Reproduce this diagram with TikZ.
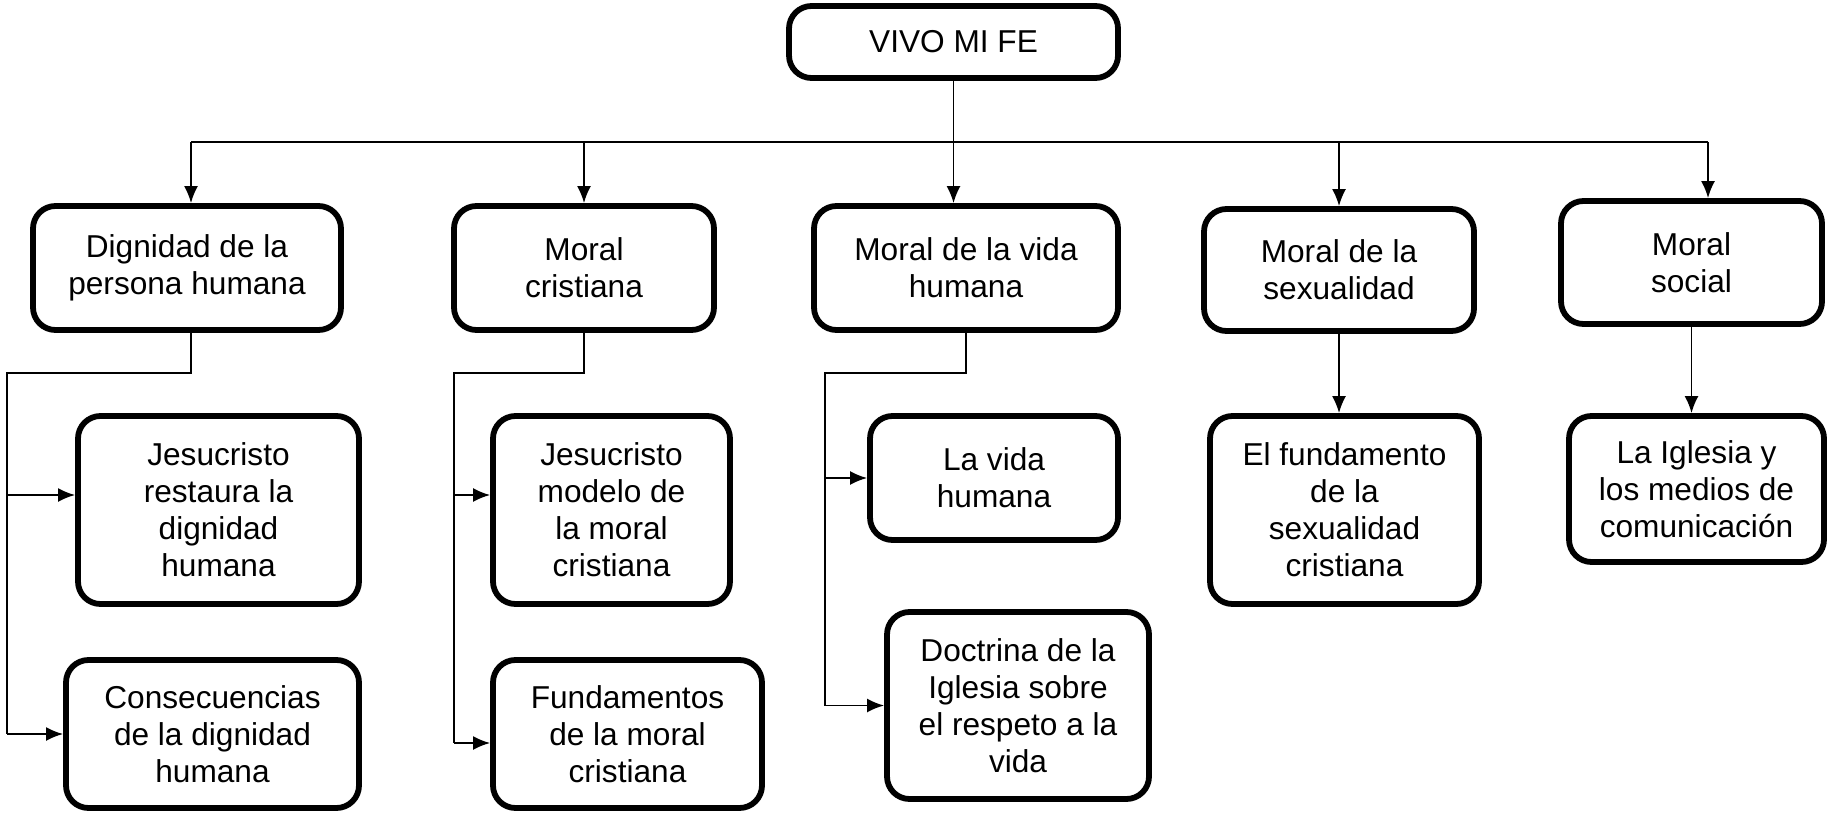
\documentclass[tikz,border=0pt]{standalone}
\usepackage{fontspec}
\setmainfont{Liberation Sans}
\usetikzlibrary{arrows.meta,positioning}

\begin{document}
\begin{tikzpicture}[>={Latex[length=0.34cm,width=0.28cm]},font=\fontsize{18}{21}\selectfont,line width=1.1pt]

    % Define node styles
    \tikzstyle{block} = [draw, line width=3.3pt, rounded corners=0.45cm, align=center, minimum height=2.48cm, inner sep=2pt]

    \useasboundingbox (0,0) rectangle (36.58,-16.26);

    % Draw nodes
    \node [block, minimum width=6.58cm, minimum height=1.44cm] (root) at (19.07,-0.84) {VIVO MI FE};

    \node [block, minimum width=6.16cm] (dig) at (3.74,-5.36) {Dignidad de la\\persona humana};
    \node [block, minimum width=5.2cm] (mc) at (11.68,-5.36) {Moral\\cristiana};
    \node [block, minimum width=6.08cm] (mvh) at (19.32,-5.36) {Moral de la vida\\humana};
    \node [block, minimum width=5.4cm, minimum height=2.44cm] (ms) at (26.78,-5.4) {Moral de la\\sexualidad};
    \node [block, minimum width=5.22cm, minimum height=2.46cm] (msoc) at (33.83,-5.25) {Moral\\social};

    \node [block, minimum width=5.62cm, minimum height=3.76cm] (jr) at (4.37,-10.2) {Jesucristo\\restaura la\\dignidad\\humana};
    \node [block, minimum width=5.86cm, minimum height=2.96cm] (cons) at (4.25,-14.68) {Consecuencias\\de la dignidad\\humana};
    \node [block, minimum width=4.74cm, minimum height=3.76cm] (jm) at (12.23,-10.2) {Jesucristo\\modelo de\\la moral\\cristiana};
    \node [block, minimum width=5.38cm, minimum height=2.96cm] (fund) at (12.55,-14.68) {Fundamentos\\de la moral\\cristiana};
    \node [block, minimum width=4.96cm] (lvh) at (19.88,-9.56) {La vida\\humana};
    \node [block, minimum width=5.24cm, minimum height=3.74cm] (doc) at (20.36,-14.11) {Doctrina de la\\Iglesia sobre\\el respeto a la\\vida};
    \node [block, minimum width=5.38cm, minimum height=3.76cm] (ef) at (26.89,-10.2) {El fundamento\\de la\\sexualidad\\cristiana};
    \node [block, minimum width=5.1cm, minimum height=2.92cm] (lig) at (33.93,-9.78) {La Iglesia y\\los medios de\\comunicación};

    % Draw arrows
    \coordinate (busL) at (3.82,-2.84);
    \coordinate (busR) at (34.16,-2.84);
    \draw [->] (root.south) -- (root.south |- mvh.north);
    \draw (busL) -- (busR);
    \draw [->] (busL) -- (busL |- dig.north);
    \draw [->] (busL -| mc.north) -- (mc.north);
    \draw [->] (busL -| ms.north) -- (ms.north);
    \draw [->] (busR) -- (busR |- msoc.north);

    \draw [->] (ms.south) -- (ms.south |- ef.north);
    \draw [->] (msoc.south) -- (msoc.south |- lig.north);

    % Brackets to the sub-topics
    \coordinate (k1) at (0.14,-7.46);
    \coordinate (jrin) at ([yshift=0.3cm]jr.west);
    \draw (busL |- dig.south) |- (k1) -- (k1 |- cons.west);
    \draw [->] (k1 |- jrin) -- (jrin);
    \draw [->] (k1 |- cons.west) -- (cons.west);

    \coordinate (k2) at (9.08,-7.46);
    \coordinate (jmin) at ([yshift=0.3cm]jm.west);
    \coordinate (fundin) at ([yshift=-0.18cm]fund.west);
    \draw (mc.south) |- (k2) -- (k2 |- fundin);
    \draw [->] (k2 |- jmin) -- (jmin);
    \draw [->] (k2 |- fundin) -- (fundin);

    \coordinate (k3) at (16.5,-7.46);
    \draw (mvh.south) |- (k3) -- (k3 |- doc.west);
    \draw [->] (k3 |- lvh.west) -- (lvh.west);
    \draw [->] (k3 |- doc.west) -- (doc.west);

\end{tikzpicture}
\end{document}
